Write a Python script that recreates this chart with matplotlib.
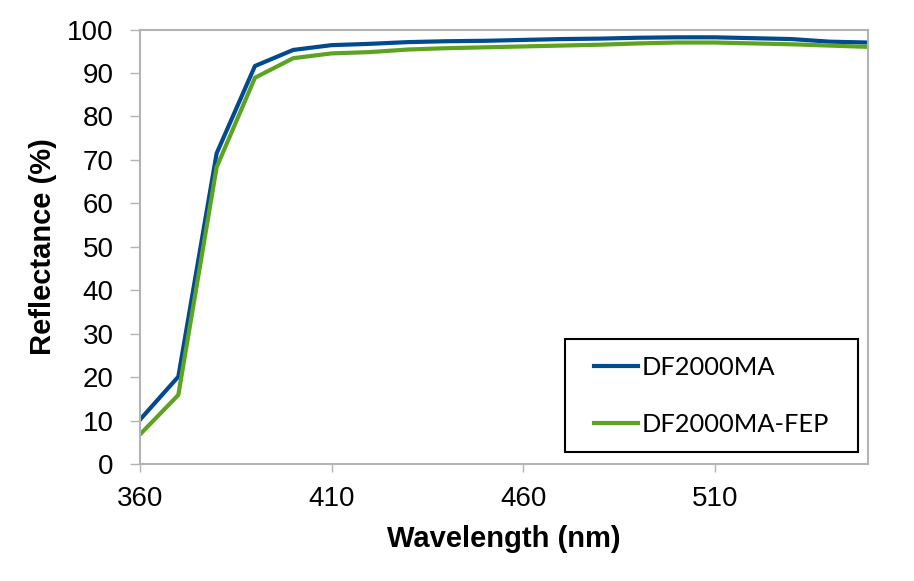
import matplotlib
matplotlib.use('Agg')
import matplotlib.pyplot as plt
from matplotlib.patches import Rectangle

wavelength = [360, 370, 380, 390, 400, 410, 420, 430, 440, 450,
              460, 470, 480, 490, 500, 510, 520, 530, 540, 550]
df2000ma = [10.2, 20.1, 71.5, 91.6, 95.3, 96.4, 96.7, 97.1, 97.3, 97.4,
            97.6, 97.8, 97.9, 98.1, 98.2, 98.2, 98.0, 97.8, 97.2, 97.0]
df2000ma_fep = [6.8, 15.9, 68.3, 88.9, 93.4, 94.5, 94.8, 95.4, 95.7, 95.9,
                96.1, 96.3, 96.5, 96.8, 97.0, 97.0, 96.8, 96.6, 96.3, 96.0]
x_ticks = [360, 410, 460, 510]
y_ticks = list(range(0, 101, 10))

plt.rcParams['font.family'] = ['Liberation Sans', 'DejaVu Sans']

fig = plt.figure(figsize=(9.14, 5.81), dpi=100)
ax = fig.add_axes([140/914, 1-464/581, 728/914, 434.5/581])

ax.plot(wavelength, df2000ma, color='#004b8d', lw=3.0, label='DF2000MA')
ax.plot(wavelength, df2000ma_fep, color='#5ca321', lw=3.0, label='DF2000MA-FEP')

ax.set_xlim(360, 550)
ax.set_ylim(0, 100)
ax.set_xticks(x_ticks)
ax.set_yticks(y_ticks)

for s in ax.spines.values():
    s.set_color('#b3b3b3')
    s.set_linewidth(1.5)
ax.tick_params(axis='both', colors='#b3b3b3', labelcolor='black', labelsize=20,
               length=7, width=1)
ax.tick_params(axis='y', pad=12)
ax.tick_params(axis='x', length=6, pad=10)

ax.set_xlabel('Wavelength (nm)', fontsize=21, fontweight='bold', labelpad=9)
ax.set_ylabel('Reflectance (%)', fontsize=21, fontweight='bold', labelpad=7)

# legend box drawn separately so the side padding can be wider than the top/bottom
box = Rectangle((565/914, 1-452/581), 293/914, 113/581, transform=fig.transFigure,
                facecolor='white', edgecolor='black', linewidth=1.5,
                zorder=5, clip_on=False)
ax.add_patch(box)
leg = ax.legend(loc='center', bbox_to_anchor=((565+146.5)/914, 1-396/581),
                bbox_transform=fig.transFigure, frameon=False,
                prop={'family': 'Lato', 'size': 18.3},
                handlelength=1.7, handletextpad=0.15, labelspacing=1.35)
leg.set_zorder(6)

fig.savefig('out.png', dpi=100)
